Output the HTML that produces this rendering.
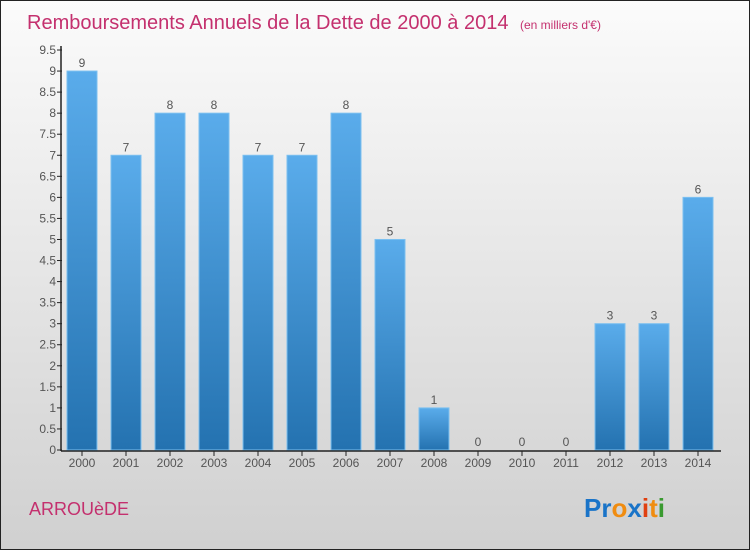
<!DOCTYPE html>
<html><head><meta charset="utf-8"><style>
body{margin:0;}
#wrap{width:748px;height:548px;border:1px solid #222;background:linear-gradient(#fbfbfb,#d0d0d0);position:relative;overflow:hidden;font-family:"Liberation Sans",sans-serif;}
</style></head><body>
<div id="wrap">
<svg id="c" width="748" height="548">
<defs><linearGradient id="g" x1="0" y1="0" x2="0" y2="1"><stop offset="0" stop-color="#5aaceb"/><stop offset="1" stop-color="#2472b0"/></linearGradient></defs>
<text x="26" y="28" font-size="20" fill="#c4306e">Remboursements Annuels de la Dette de 2000 à 2014 <tspan font-size="12" dx="6">(en milliers d'€)</tspan></text>
<text x="28" y="514" font-size="18" fill="#c4306e">ARROUèDE</text>
<text x="583" y="516" font-size="26" font-weight="bold"><tspan fill="#1a74c8">Pr</tspan><tspan fill="#f08c10">o</tspan><tspan fill="#1a74c8">x</tspan><tspan fill="#e04010">i</tspan><tspan fill="#f08c10">t</tspan><tspan fill="#3a9a30">i</tspan></text>
<g id="plot"></g>
</svg></div>
<script>
const categories=["2000","2001","2002","2003","2004","2005","2006","2007","2008","2009","2010","2011","2012","2013","2014"];
const values=[9,7,8,8,7,7,8,5,1,0,0,0,3,3,6];
const yTicks=[0,0.5,1,1.5,2,2.5,3,3.5,4,4.5,5,5.5,6,6.5,7,7.5,8,8.5,9,9.5];
const NS="http://www.w3.org/2000/svg";
const g=document.getElementById('plot');
const y=v=>449-v*(400/9.5);
const x=i=>81+i*44;
function mk(t,a,txt){const e=document.createElementNS(NS,t);for(const k in a)e.setAttribute(k,a[k]);if(txt!==undefined)e.textContent=txt;g.appendChild(e);return e;}
yTicks.forEach(v=>{
 const l=mk('line',{x1:56,x2:61,y1:y(v),y2:y(v),stroke:'#222'});
 
 
 const t=mk('text',{x:55,y:y(v)+4,'text-anchor':'end','font-size':12,fill:'#555'},String(v));
 
 
});
categories.forEach((c,i)=>{
 const v=values[i];
 const r=mk('rect',{x:x(i)-15,y:y(v),width:30,height:449-y(v),fill:'url(#g)',stroke:'#7cc0f0','stroke-width':1});
 
 
 const vl=mk('text',{x:x(i),y:y(v)-4,'text-anchor':'middle','font-size':12,fill:'#555'},String(v));
 
 
 const tk=mk('line',{x1:x(i),x2:x(i),y1:450,y2:455,stroke:'#222'});
 
 
 const xl=mk('text',{x:x(i),y:466,'text-anchor':'middle','font-size':12,fill:'#555'},c);
 
 
});
const ya=mk('line',{x1:60,x2:60,y1:45,y2:450,stroke:'#222','stroke-width':1.5});


const xa=mk('line',{x1:60,x2:720,y1:450,y2:450,stroke:'#222','stroke-width':1.5});


</script>
</body></html>
